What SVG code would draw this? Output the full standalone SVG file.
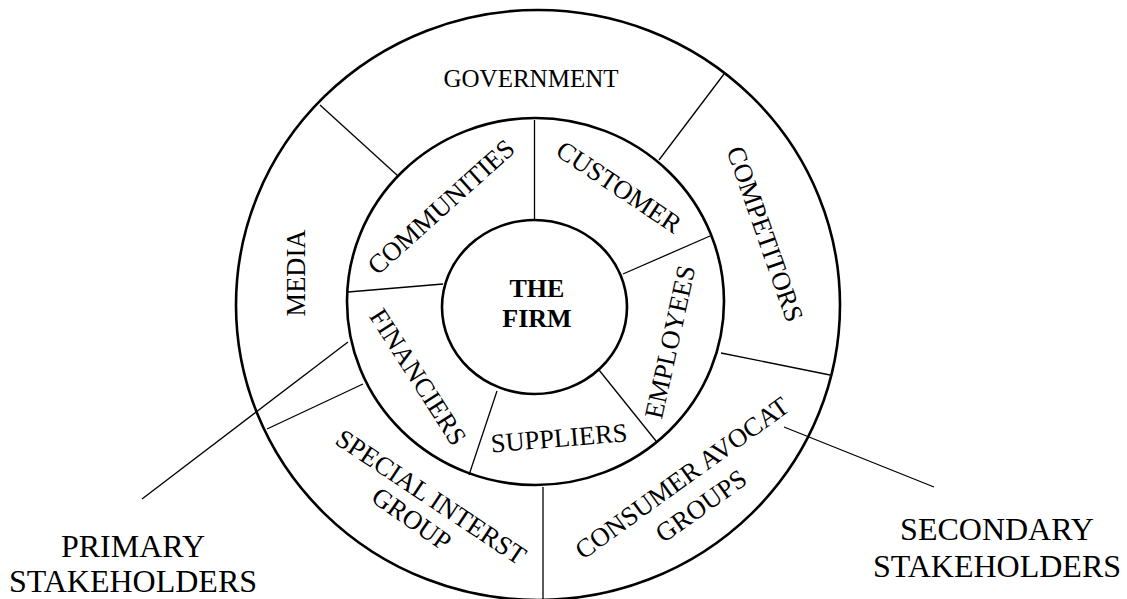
<svg xmlns="http://www.w3.org/2000/svg" width="1127" height="599" viewBox="0 0 1127 599">
<style>
.ring{fill:none;stroke:#000;stroke-width:2.6}
.div{fill:none;stroke:#000;stroke-width:1.3}
.t{font-family:"Liberation Serif","Times New Roman",serif;font-size:26.5px;fill:#000;text-anchor:middle}
.g{font-size:25px}
.b{font-weight:bold;font-size:26px}
.big{font-size:32px}
</style>
<rect width="1127" height="599" fill="#fff"/>
<g id="rings">
<ellipse class="ring" cx="538" cy="305" rx="302" ry="295"/>
<ellipse class="ring" cx="535.5" cy="301.5" rx="188.5" ry="183.5"/>
</g>
<g id="connectors">
<line class="div" x1="534.5" y1="120" x2="534.5" y2="220"/>
<line class="div" x1="710" y1="236" x2="623" y2="274"/>
<line class="div" x1="599" y1="370" x2="656" y2="441"/>
<line class="div" x1="497" y1="391" x2="469" y2="475"/>
<line class="div" x1="348" y1="292" x2="443" y2="284"/>
<line class="div" x1="320" y1="105" x2="398" y2="176"/>
<line class="div" x1="724" y1="74" x2="659" y2="160"/>
<line class="div" x1="721" y1="353" x2="830" y2="375"/>
<line class="div" x1="543" y1="487" x2="543" y2="600"/>
<line class="div" x1="363" y1="384" x2="267" y2="429"/>
<line class="div" x1="348" y1="342" x2="142" y2="499"/>
<line class="div" x1="784" y1="427" x2="934" y2="487"/>
</g>
<g id="firm">
<ellipse class="ring" cx="534.5" cy="307" rx="92.5" ry="87"/>
<text class="t b" x="537" y="297">THE</text>
<text class="t b" x="537" y="327">FIRM</text>
</g>
<g id="government"><text class="t g" x="531" y="87">GOVERNMENT</text></g>
<g id="media"><text class="t" transform="translate(296,273) rotate(-90)" y="8.8">MEDIA</text></g>
<g id="competitors"><text class="t" transform="translate(765,234) rotate(70.7)" y="8.8">COMPETITORS</text></g>
<g id="communities"><text class="t" transform="translate(441,207) rotate(-42)" y="8.8">COMMUNITIES</text></g>
<g id="customer"><text class="t" transform="translate(619,187) rotate(33.7)" y="8.8">CUSTOMER</text></g>
<g id="employees"><text class="t" transform="translate(670,342) rotate(-77.6)" y="8.8">EMPLOYEES</text></g>
<g id="financiers"><text class="t" transform="translate(418,377) rotate(57.4)" y="8.8">FINANCIERS</text></g>
<g id="suppliers"><text class="t" transform="translate(559,438) rotate(-4.7)" y="8.8">SUPPLIERS</text></g>
<g id="special"><text class="t" transform="translate(431,497) rotate(33.6)" y="8.8">SPECIAL INTERST</text>
<text class="t" transform="translate(411.6,519) rotate(35)" y="8.8">GROUP</text></g>
<g id="consumer"><text class="t" transform="translate(682,478) rotate(-35.8)" y="8.8">CONSUMER AVOCAT</text>
<text class="t" transform="translate(701,506) rotate(-35.6)" y="8.8">GROUPS</text></g>
<g id="primary"><text class="t big" x="133" y="557">PRIMARY</text><text class="t big" x="133" y="592">STAKEHOLDERS</text></g>
<g id="secondary"><text class="t big" x="997" y="540">SECONDARY</text><text class="t big" x="997" y="577">STAKEHOLDERS</text></g>
</svg>
